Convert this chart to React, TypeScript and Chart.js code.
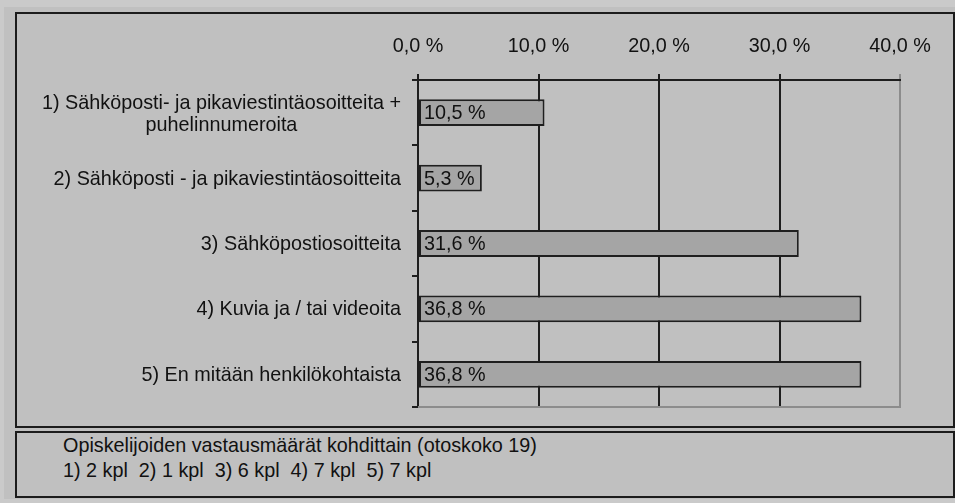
import React, { useEffect, useRef } from "react";
import { Chart, registerables } from "chart.js";

Chart.register(...registerables);

const categories: (string | string[])[] = [
  ["1) Sähköposti- ja pikaviestintäosoitteita +", "puhelinnumeroita"],
  "2) Sähköposti - ja pikaviestintäosoitteita",
  "3) Sähköpostiosoitteita",
  "4) Kuvia ja / tai videoita",
  "5) En mitään henkilökohtaista",
];
const values = [10.5, 5.3, 31.6, 36.8, 36.8];
const counts = [2, 1, 6, 7, 7];
const sampleSize = 19;
const xTicks = [0, 10, 20, 30, 40];
const footerTitle = `Opiskelijoiden vastausmäärät kohdittain (otoskoko ${sampleSize})`;
const footerLine = counts.map((c, i) => `${i + 1}) ${c} kpl`).join("  ");

const FONT = "Arial, 'Liberation Sans', sans-serif";
const FSIZE = 19.8;
const fmt = (v: number) => v.toFixed(1).replace(".", ",") + " %";

const CW = 955;
const CH = 430;

export default function App() {
  const ref = useRef<HTMLCanvasElement | null>(null);

  useEffect(() => {
    const canvas = ref.current;
    if (!canvas) return;

    const overlay = {
      id: "overlay",
      beforeDatasetsDraw(chart: any) {
        const { ctx, chartArea } = chart;
        ctx.save();
        ctx.strokeStyle = "#8c8c8c";
        ctx.lineWidth = 2;
        ctx.beginPath();
        ctx.moveTo(chartArea.left, chartArea.bottom);
        ctx.lineTo(chartArea.right + 1, chartArea.bottom);
        ctx.stroke();
        ctx.restore();
      },
      afterDatasetsDraw(chart: any) {
        const { ctx } = chart;
        const meta = chart.getDatasetMeta(0);
        ctx.save();
        ctx.font = `${FSIZE}px ${FONT}`;
        ctx.fillStyle = "#111";
        ctx.textAlign = "left";
        ctx.textBaseline = "middle";
        meta.data.forEach((bar: any, i: number) => {
          ctx.fillText(fmt(values[i]), bar.base + 5, bar.y + 1);
        });
        ctx.restore();
      },
      afterDraw(chart: any) {
        const { ctx, chartArea } = chart;
        const yScale = chart.scales.y;
        const rightX = chartArea.left - 17;
        const lh = 22;
        ctx.save();
        ctx.font = `${FSIZE}px ${FONT}`;
        ctx.fillStyle = "#111";
        ctx.textBaseline = "middle";
        categories.forEach((lab, i) => {
          const yc = yScale.getPixelForValue(i) + 1;
          const lines = Array.isArray(lab) ? lab : [lab];
          if (lines.length === 1) {
            ctx.textAlign = "right";
            ctx.fillText(lines[0], rightX, yc);
          } else {
            const w0 = ctx.measureText(lines[0]).width;
            const cx = rightX - w0 / 2;
            ctx.textAlign = "center";
            const start = yc - ((lines.length - 1) * lh) / 2 + 1;
            lines.forEach((ln, k) => ctx.fillText(ln, cx, start + k * lh));
          }
        });
        ctx.restore();
      },
    };

    const chart = new Chart(canvas, {
      type: "bar",
      data: {
        labels: categories as any,
        datasets: [
          {
            data: values,
            backgroundColor: "#a5a5a5",
            borderColor: "#1f1f1f",
            borderWidth: 2,
            borderSkipped: false,
            barPercentage: 0.41,
            categoryPercentage: 1,
          },
        ],
      },
      options: {
        indexAxis: "y",
        responsive: false,
        animation: false,
        devicePixelRatio: 1,
        layout: { padding: { left: 0, top: 0, right: 55, bottom: CH - 407 } },
        plugins: { legend: { display: false }, tooltip: { enabled: false } },
        scales: {
          x: {
            type: "linear",
            position: "top",
            min: xTicks[0],
            max: xTicks[xTicks.length - 1],
            afterBuildTicks: (s: any) => {
              s.ticks = xTicks.map((v) => ({ value: v }));
            },
            ticks: {
              callback: (v: any) => fmt(Number(v)),
              font: { family: FONT, size: FSIZE },
              color: "#111",
              padding: 16,
              maxRotation: 0,
              autoSkip: false,
            },
            grid: {
              color: (c: any) => (c.tick && c.tick.value === 40 ? "#8c8c8c" : "#1e1e1e"),
              tickColor: (c: any) => (c.tick && c.tick.value === 40 ? "#8c8c8c" : "#1e1e1e"),
              lineWidth: 2,
              tickWidth: 2,
              tickLength: 6,
            },
            border: { color: "#1e1e1e", width: 2 },
            afterFit: (s: any) => {
              s.height = 80;
            },
          },
          y: {
            type: "category",
            position: "left",
            offset: true,
            ticks: { display: false },
            grid: {
              offset: true,
              drawOnChartArea: false,
              drawTicks: true,
              tickLength: 6,
              color: "#1e1e1e",
              lineWidth: 2,
            },
            border: { color: "#1e1e1e", width: 2 },
            afterFit: (s: any) => {
              s.width = 418;
            },
          },
        },
      } as any,
      plugins: [overlay],
    });

    return () => chart.destroy();
  }, []);

  return (
    <div
      style={{
        position: "fixed",
        left: 0,
        top: 0,
        width: CW,
        height: 503,
        background: "#cacaca",
        overflow: "hidden",
      }}
    >
      <div
        style={{
          position: "absolute",
          left: 4,
          top: 7,
          width: 951,
          height: 492,
          background: "#c0c0c0",
        }}
      />
      <div
        style={{
          position: "absolute",
          left: 15,
          top: 12,
          width: 940,
          height: 416,
          border: "2px solid #1c1c1c",
          boxSizing: "border-box",
        }}
      />
      <div
        style={{
          position: "absolute",
          left: 15,
          top: 431,
          width: 940,
          height: 67,
          border: "2px solid #1c1c1c",
          boxSizing: "border-box",
        }}
      />
      <div
        style={{
          position: "absolute",
          left: 63,
          top: 433,
          font: `${FSIZE}px ${FONT}`,
          lineHeight: "25px",
          whiteSpace: "pre",
          color: "#111",
        }}
      >
        <div>{footerTitle}</div>
        <div>{footerLine}</div>
      </div>
      <canvas
        ref={ref}
        width={CW}
        height={CH}
        style={{ position: "absolute", left: 0, top: 0, width: CW, height: CH }}
      />
    </div>
  );
}
